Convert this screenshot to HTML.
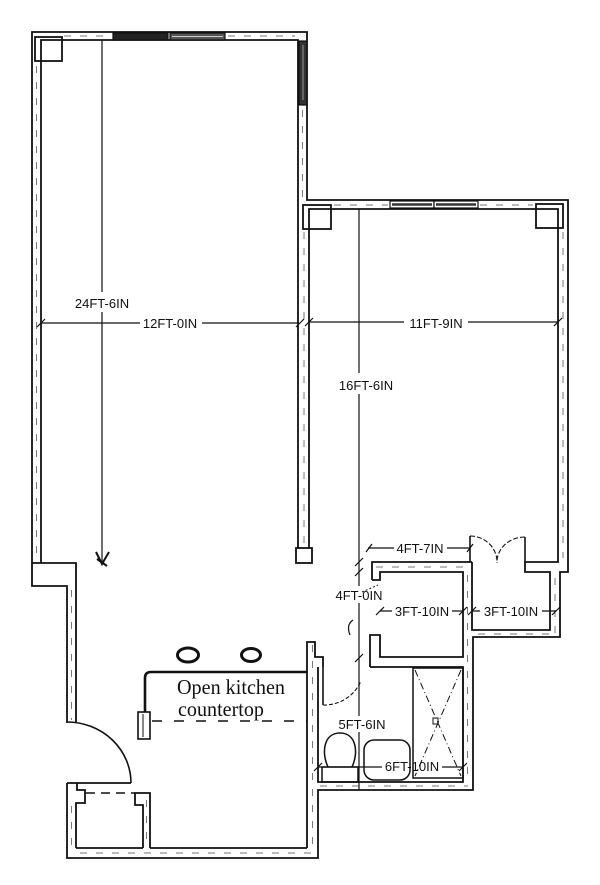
<!DOCTYPE html>
<html>
<head>
<meta charset="utf-8">
<style>
  html,body{margin:0;padding:0;background:#fff;}
  svg{display:block;}
  .dim{font-family:"Liberation Sans",Arial,sans-serif;font-size:13px;fill:#111;}
  .serif{font-family:"Liberation Serif","Times New Roman",serif;font-size:21px;fill:#111;}
</style>
</head>
<body>
<svg xmlns="http://www.w3.org/2000/svg" width="600" height="885" viewBox="0 0 600 885">
<rect width="600" height="885" fill="#fff"/>

<!-- wall stipple (dashed mid lines) -->
<g fill="none" stroke="#777" stroke-width="1" stroke-dasharray="7 9">
  <path d="M36.5,66 V560"/>
  <path d="M64,36 H110 M228,36 H295"/>
  <path d="M302.5,110 V198"/>
  <path d="M304,232 V545"/>
  <path d="M334,205 H388 M480,205 H533"/>
  <path d="M563,232 V558"/>
  <path d="M71.5,590 V720"/>
  <path d="M71.5,806 V852 M80,853 H312 M312.5,645 V848"/>
  <path d="M376,567 H467 M467.5,575 V780 M555,578 V633 M478,634 H553"/>
  <path d="M320,786 H468"/>
  <path d="M146.5,800 V846"/>
</g>

<g fill="none" stroke="#111" stroke-width="1.8" stroke-linejoin="miter">
  <!-- outer perimeter -->
  <path d="M67,723 V586 H32 V32 H307 V200 H568 V572 H560 V637 H473 V790 H318 V858 H67 V783"/>
  <!-- left room inner -->
  <path d="M41,563 V40 H298 V548"/>
  <!-- bottom-left column -->
  <path d="M32,563 H76 V723"/>
  <!-- partition end box + right line -->
  <rect x="296" y="548" width="16" height="15"/>
  <path d="M309,548 V209 H558 V562 H525 V572 H550 V630 H472 V562"/>
  <!-- column squares -->
  <rect x="35" y="37" width="27" height="24"/>
  <rect x="303" y="205" width="28" height="24"/>
  <rect x="536" y="204" width="27" height="24"/>

  <!-- closet 1 -->
  <path d="M372,580 V562 H472"/>
  <path d="M372,580 H380 V572 H463 V657 H380 V635 H370 V667"/>
  <!-- bathroom -->
  <path d="M370,667 H463 V782 H318 V667"/>
  <!-- kitchen right wall -->
  <path d="M307,848 V642 H315 V657 H323 V667"/>
  <!-- kitchen bottom inner -->
  <path d="M150,848 H307"/>
  <!-- small room -->
  <path d="M67,783 H131"/>
  <path d="M76,848 V803 H85 V790 H77 V783"/>
  <path d="M76,848 H143"/>
  <path d="M143,848 V805 H135 V793 H150 V848"/>
</g>

<!-- windows -->
<g stroke="#111" stroke-width="1.2">
  <rect x="113" y="33" width="55" height="7" fill="#222"/>
  <rect x="170" y="33" width="55" height="7" fill="#555"/>
  <line x1="172" y1="36.5" x2="223" y2="36.5" stroke="#ccc" stroke-width="1"/>
  <rect x="299" y="41" width="8" height="64" fill="#333"/>
  <line x1="303" y1="45" x2="303" y2="100" stroke="#999" stroke-width="1"/>
  <rect x="390" y="201" width="44" height="7" fill="#fff"/>
  <rect x="434" y="201" width="44" height="7" fill="#fff"/>
  <line x1="392" y1="204.5" x2="432" y2="204.5" stroke="#333" stroke-width="2.5"/>
  <line x1="436" y1="204.5" x2="476" y2="204.5" stroke="#333" stroke-width="2.5"/>
</g>

<!-- doors -->
<g fill="none" stroke="#111" stroke-width="1.6">
  <!-- entrance door arc -->
  <path d="M67,722 A64,61 0 0 1 131,783"/>
  <!-- double doors -->
  <path d="M470,562 V536"/>
  <path d="M525,562 V537"/>
  <path d="M470,536 A27,26 0 0 1 497,563" stroke-width="1.1" stroke-dasharray="5 2"/>
  <path d="M525,537 A28,25 0 0 0 497,563" stroke-width="1.1" stroke-dasharray="5 2"/>
  <!-- bathroom door -->
  <path d="M323,667 V705"/>
  <path d="M323,705 A40,40 0 0 0 361,681" stroke-width="1.1" stroke-dasharray="4 2"/>
  <!-- closet door small curve -->
  <path d="M353,620 C347,624 348,630 350,635" stroke-width="1.2"/>
  <path d="M362,592 L378,585" stroke-width="1" stroke-dasharray="2 2"/>
</g>
<!-- small room dashed opening -->
<path d="M86,793 H135" stroke="#111" stroke-width="1.6" stroke-dasharray="9 6" fill="none"/>

<!-- kitchen counter -->
<g fill="none" stroke="#111">
  <path d="M145,712 V678 Q145,672 151,672 H307" stroke-width="2.6"/>
  <rect x="138" y="712" width="12" height="27" stroke-width="1.6"/>
  <line x1="143" y1="714" x2="143" y2="737" stroke-width="1"/>
  <path d="M152,721 H307" stroke-width="1.6" stroke-dasharray="10 12"/>
  <ellipse cx="188" cy="655" rx="10.5" ry="7" stroke-width="3"/>
  <ellipse cx="251" cy="655" rx="9.5" ry="6.5" stroke-width="3"/>
</g>

<!-- bathroom fixtures -->
<g fill="none" stroke="#111" stroke-width="1.5">
  <path d="M328,767 C321,752 324,733 340,733 C356,733 359,752 352,767"/>
  <rect x="322" y="767" width="36" height="15"/>
  <rect x="364" y="740" width="46" height="40" rx="10"/>
  <rect x="413" y="668" width="50" height="110"/>
  <path d="M415,670 L461,776 M461,670 L415,776" stroke-width="1" stroke-dasharray="7 3 1 3"/>
  <rect x="433" y="718" width="5" height="6" stroke-width="1"/>
</g>

<!-- dimension lines -->
<g fill="none" stroke="#111" stroke-width="1.2">
  <path d="M102,40 V292 M102,312 V562"/>
  <path d="M96,552 L102,564 L109,552 M97,559 L107,566" stroke-width="2"/>
  <path d="M41,323 H140 M202,323 H299"/>
  <path d="M37,327 L45,319 M296,327 L304,319"/>
  <path d="M309,322 H404 M468,322 H558"/>
  <path d="M305,326 L313,318 M554,326 L562,318"/>
  <path d="M359,209 V373 M359,394 V586 M359,603 V716 M359,732 V790"/>
  <path d="M355,566 L363,558 M355,576 L363,568 M355,662 L363,654"/>
  <path d="M368,548 H394 M447,548 H470"/>
  <path d="M366,552 L372,544 M467,552 L473,544"/>
  <path d="M380,611 H392 M452,611 H463 M472,611 H480 M542,611 H556"/>
  <path d="M376,615 L384,607 M459,615 L467,607 M468,615 L476,607 M552,615 L560,607"/>
  <path d="M318,767 H382 M442,767 H463"/>
  <path d="M314,771 L322,763 M459,771 L467,763"/>
</g>

<!-- labels -->
<text class="dim" x="102" y="308" text-anchor="middle">24FT-6IN</text>
<text class="dim" x="170" y="328" text-anchor="middle">12FT-0IN</text>
<text class="dim" x="436" y="328" text-anchor="middle">11FT-9IN</text>
<text class="dim" x="366" y="390" text-anchor="middle">16FT-6IN</text>
<text class="dim" x="420" y="553" text-anchor="middle">4FT-7IN</text>
<text class="dim" x="359" y="600" text-anchor="middle">4FT-0IN</text>
<text class="dim" x="422" y="616" text-anchor="middle">3FT-10IN</text>
<text class="dim" x="511" y="616" text-anchor="middle">3FT-10IN</text>
<text class="dim" x="362" y="729" text-anchor="middle">5FT-6IN</text>
<text class="dim" x="412" y="771" text-anchor="middle">6FT-10IN</text>

<text class="serif" x="177" y="694" textLength="108" lengthAdjust="spacingAndGlyphs">Open kitchen</text>
<text class="serif" x="178" y="716" textLength="86" lengthAdjust="spacingAndGlyphs">countertop</text>
</svg>
</body>
</html>
